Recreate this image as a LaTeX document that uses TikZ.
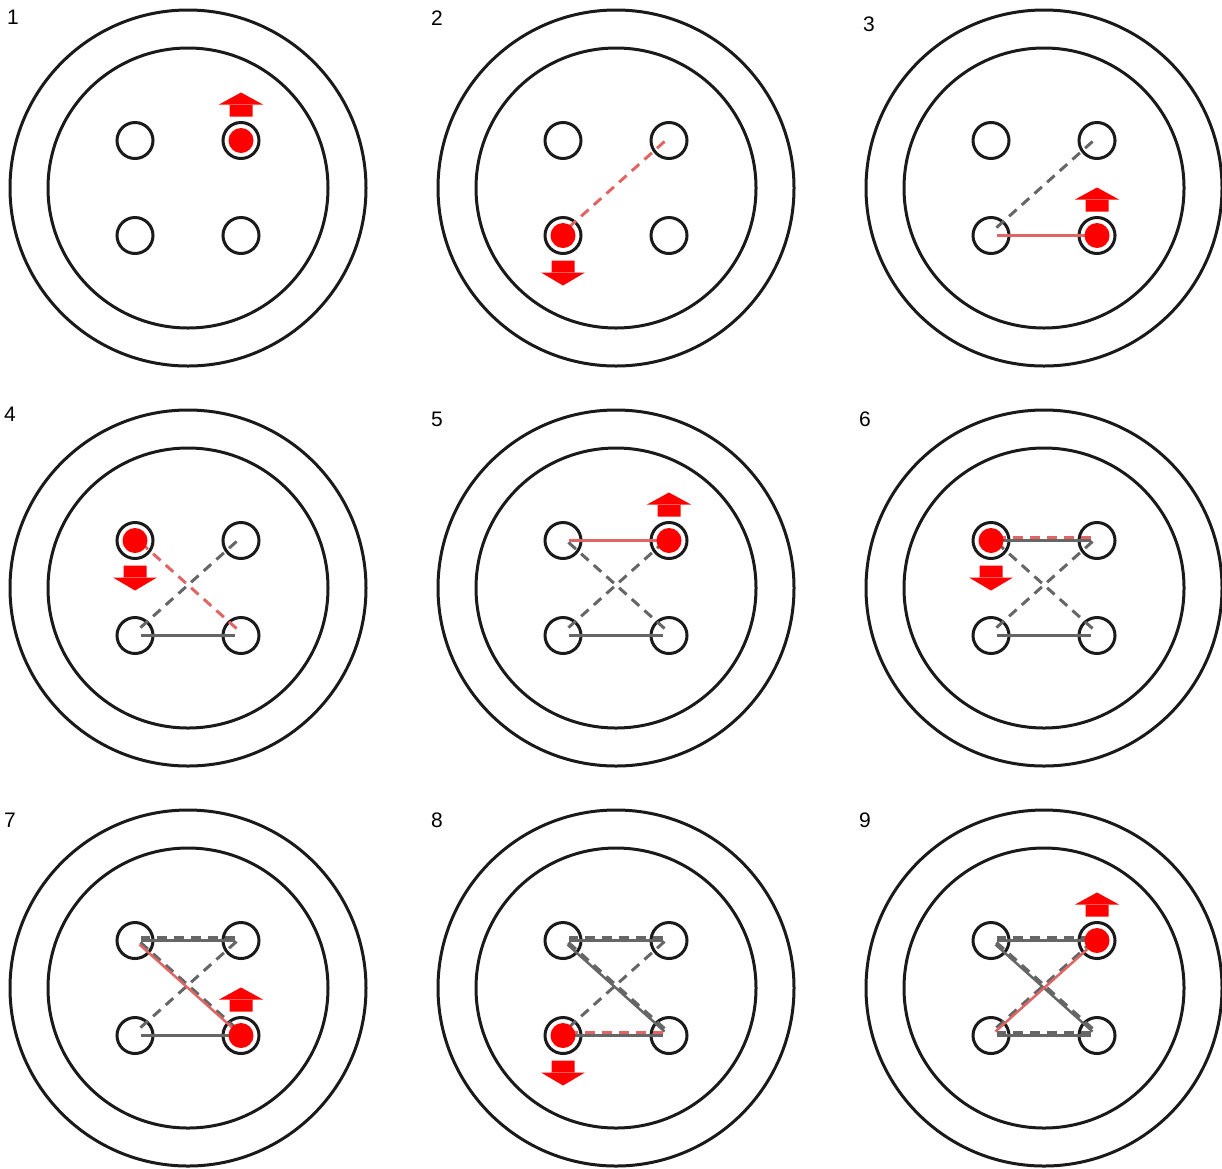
\documentclass[tikz,border=0pt]{standalone}
\usepackage{fontspec}
\setmainfont{Liberation Sans}

\definecolor{rimblack}{HTML}{1A1A1A}
\definecolor{threadgray}{HTML}{666666}
\definecolor{threadred}{HTML}{E06666}
\definecolor{needlered}{HTML}{FF0000}

\tikzset{
  rim/.style={draw=rimblack, line width=3pt},
  hole/.style={circle, draw=rimblack, line width=3pt, minimum size=36pt, inner sep=0pt},
  frontstitch/.style={draw=threadgray, line width=2.5pt, shorten <=6pt, shorten >=6pt},
  backstitch/.style={frontstitch, line width=3pt, dash pattern=on 10pt off 7pt,
    transform canvas={yshift=3pt}},
  frontnew/.style={frontstitch, draw=threadred},
  backnew/.style={backstitch, draw=threadred},
  needle/.style={fill=needlered, draw=none},
  stepnum/.style={font=\fontsize{21}{25}\selectfont, inner sep=0pt},
  needleup/.pic={\fill[needle] (-11.5,-24) rectangle (11.5,-36.5)
    (-22,-36) -- (22,-36) -- (0,-48) -- cycle;},
  needledown/.pic={\fill[needle] (-11.5,25) rectangle (11.5,37.5)
    (-22,37) -- (22,37) -- (0,50) -- cycle;}
}

\begin{document}
\begin{tikzpicture}[x=1pt,y=-1pt]

\useasboundingbox (0,0) rectangle (1222,1168);

% buttons
\foreach \n/\cx/\cy in {1/188/188, 2/616/188, 3/1044/188,
                        4/188/588, 5/616/588, 6/1044/588,
                        7/188/988, 8/616/988, 9/1044/988} {
  \draw[rim] (\cx,\cy) circle (178);
  \draw[rim] (\cx,\cy) circle (140);
  \node[hole] (b\n-tl) at (\cx-53,\cy-47.5) {};
  \node[hole] (b\n-tr) at (\cx+53,\cy-47.5) {};
  \node[hole] (b\n-bl) at (\cx-53,\cy+47.5) {};
  \node[hole] (b\n-br) at (\cx+53,\cy+47.5) {};
}

% step numbers
\foreach \n/\lx/\ly in {1/13/17, 2/437/18, 3/869/24,
                        4/10/414, 5/437/419, 6/865/419,
                        7/10/820, 8/437/820, 9/865/820}
  \node[stepnum] (num\n) at (\lx,\ly) {\n};

% 1
\fill[needle] (b1-tr) circle (12.5);
\pic at (b1-tr) {needleup};

% 2
\draw[backnew] (b2-tr.center) -- (b2-bl.center);
\fill[needle] (b2-bl) circle (12.5);
\pic at (b2-bl) {needledown};

% 3
\draw[backstitch] (b3-tr.center) -- (b3-bl.center);
\draw[frontnew] (b3-bl.center) -- (b3-br.center);
\fill[needle] (b3-br) circle (12.5);
\pic at (b3-br) {needleup};

% 4
\draw[backstitch] (b4-tr.center) -- (b4-bl.center);
\draw[frontstitch] (b4-bl.center) -- (b4-br.center);
\draw[backnew] (b4-br.center) -- (b4-tl.center);
\fill[needle] (b4-tl) circle (12.5);
\pic at (b4-tl) {needledown};

% 5
\draw[backstitch] (b5-tr.center) -- (b5-bl.center);
\draw[frontstitch] (b5-bl.center) -- (b5-br.center);
\draw[backstitch] (b5-br.center) -- (b5-tl.center);
\draw[frontnew] (b5-tl.center) -- (b5-tr.center);
\fill[needle] (b5-tr) circle (12.5);
\pic at (b5-tr) {needleup};

% 6
\draw[backstitch] (b6-tr.center) -- (b6-bl.center);
\draw[frontstitch] (b6-bl.center) -- (b6-br.center);
\draw[backstitch] (b6-br.center) -- (b6-tl.center);
\draw[frontstitch] (b6-tl.center) -- (b6-tr.center);
\draw[backnew] (b6-tr.center) -- (b6-tl.center);
\fill[needle] (b6-tl) circle (12.5);
\pic at (b6-tl) {needledown};

% 7
\draw[backstitch] (b7-tr.center) -- (b7-bl.center);
\draw[frontstitch] (b7-bl.center) -- (b7-br.center);
\draw[backstitch] (b7-br.center) -- (b7-tl.center);
\draw[frontstitch] (b7-tl.center) -- (b7-tr.center);
\draw[backstitch] (b7-tr.center) -- (b7-tl.center);
\draw[frontnew] (b7-tl.center) -- (b7-br.center);
\fill[needle] (b7-br) circle (12.5);
\pic at (b7-br) {needleup};

% 8
\draw[backstitch] (b8-tr.center) -- (b8-bl.center);
\draw[frontstitch] (b8-bl.center) -- (b8-br.center);
\draw[backstitch] (b8-br.center) -- (b8-tl.center);
\draw[frontstitch] (b8-tl.center) -- (b8-tr.center);
\draw[backstitch] (b8-tr.center) -- (b8-tl.center);
\draw[frontstitch] (b8-tl.center) -- (b8-br.center);
\draw[backnew] (b8-br.center) -- (b8-bl.center);
\fill[needle] (b8-bl) circle (12.5);
\pic at (b8-bl) {needledown};

% 9
\draw[backstitch] (b9-tr.center) -- (b9-bl.center);
\draw[frontstitch] (b9-bl.center) -- (b9-br.center);
\draw[backstitch] (b9-br.center) -- (b9-tl.center);
\draw[frontstitch] (b9-tl.center) -- (b9-tr.center);
\draw[backstitch] (b9-tr.center) -- (b9-tl.center);
\draw[frontstitch] (b9-tl.center) -- (b9-br.center);
\draw[backstitch] (b9-br.center) -- (b9-bl.center);
\draw[frontnew] (b9-bl.center) -- (b9-tr.center);
\fill[needle] (b9-tr) circle (12.5);
\pic at (b9-tr) {needleup};

\end{tikzpicture}
\end{document}
